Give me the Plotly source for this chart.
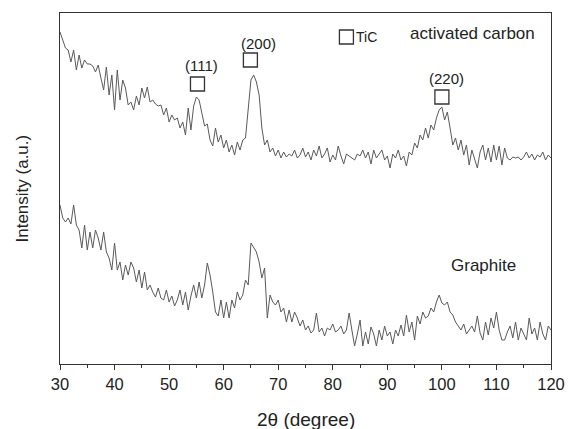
import plotly.graph_objects as go

two_theta = [30 + 0.5 * i for i in range(181)]

activated_carbon = [
    332, 324, 316, 314, 302, 314, 294, 309, 296, 304, 300, 300, 298, 292, 299, 286, 274, 297, 269, 289,
    254, 294, 264, 284, 276, 259, 262, 254, 268, 259, 276, 266, 277, 262, 264, 260, 258, 259, 249, 256,
    242, 249, 244, 246, 236, 242, 229, 256, 234, 258, 267, 264, 252, 238, 240, 224, 218, 236, 222, 229,
    216, 224, 212, 219, 209, 222, 214, 224, 226, 254, 284, 289, 282, 269, 236, 219, 224, 212, 216, 208,
    214, 206, 212, 207, 210, 208, 214, 206, 209, 216, 207, 212, 204, 214, 208, 218, 206, 210, 216, 202,
    209, 204, 218, 208, 200, 210, 208, 206, 204, 210, 208, 214, 206, 212, 200, 214, 206, 210, 214, 204,
    208, 196, 210, 206, 214, 204, 208, 198, 212, 209, 221, 216, 229, 224, 236, 226, 239, 234, 246, 254,
    257, 244, 252, 236, 219, 226, 214, 224, 209, 219, 199, 214, 206, 196, 212, 219, 204, 216, 202, 219,
    204, 218, 199, 216, 206, 204, 207, 206, 207, 204, 207, 212, 206, 210, 204, 209, 207, 212, 204, 209,
    206,
]

graphite = [
    159, 146, 142, 146, 140, 159, 139, 134, 116, 139, 114, 132, 116, 134, 126, 114, 132, 112, 106, 94,
    121, 94, 102, 84, 99, 89, 102, 96, 82, 94, 76, 92, 74, 79, 72, 67, 76, 66, 64, 74,
    62, 68, 58, 64, 74, 59, 72, 54, 68, 79, 66, 82, 66, 79, 101, 89, 72, 52, 48, 64,
    46, 62, 46, 64, 56, 72, 64, 69, 84, 79, 121, 116, 112, 102, 86, 96, 46, 69, 62, 59,
    64, 52, 56, 42, 54, 42, 52, 46, 38, 44, 34, 38, 31, 34, 51, 32, 36, 28, 36, 34,
    40, 32, 34, 38, 30, 34, 51, 34, 18, 30, 44, 18, 32, 20, 37, 30, 18, 34, 24, 38,
    28, 32, 20, 34, 28, 39, 28, 49, 32, 42, 24, 48, 40, 52, 46, 48, 56, 52, 62, 69,
    61, 59, 62, 52, 49, 42, 38, 34, 40, 30, 34, 38, 32, 48, 31, 24, 42, 29, 46, 36,
    52, 34, 24, 24, 32, 38, 26, 42, 24, 36, 30, 24, 46, 30, 36, 24, 42, 30, 24, 38,
    34,
]

x_ticks = [30, 40, 50, 60, 70, 80, 90, 100, 110, 120]

peak_labels = ["(111)", "(200)", "(220)"]
peak_label_x = [56.0, 66.3, 100.8]
peak_label_y = [299, 321, 286]
peak_square_x = [55.2, 64.9, 100.0]
peak_square_y = [280, 304, 267]
legend_square = (82.5, 327)

line_color = "#5a5a5a"
text_color = "#222222"
font_family = "Liberation Sans, Arial, sans-serif"

fig = go.Figure()
fig.add_trace(go.Scatter(x=two_theta, y=activated_carbon, mode="lines",
                         line=dict(color=line_color, width=1), showlegend=False))
fig.add_trace(go.Scatter(x=two_theta, y=graphite, mode="lines",
                         line=dict(color=line_color, width=1), showlegend=False))
# TiC markers
fig.add_trace(go.Scatter(x=peak_square_x + [legend_square[0]], y=peak_square_y + [legend_square[1]],
                         mode="markers",
                         marker=dict(symbol="square-open", size=14, color="#333333",
                                     line=dict(width=1.3, color="#333333")),
                         showlegend=False))

annotations = []
for lab, px, py in zip(peak_labels, peak_label_x, peak_label_y):
    annotations.append(dict(x=px, y=py, text=lab, showarrow=False,
                            font=dict(size=15, color=text_color, family=font_family)))
annotations.append(dict(x=83.8, y=327, text="TiC", showarrow=False, xanchor="left",
                        font=dict(size=14, color=text_color, family=font_family)))
annotations.append(dict(x=105.7, y=331, text="activated carbon", showarrow=False,
                        font=dict(size=17, color=text_color, family=font_family)))
annotations.append(dict(x=107.7, y=99, text="Graphite", showarrow=False,
                        font=dict(size=17, color=text_color, family=font_family)))
# axis titles
annotations.append(dict(x=0.5, y=0, xref="paper", yref="paper", text="2θ (degree)",
                        showarrow=False, yanchor="middle", yshift=-55,
                        font=dict(size=19, color=text_color, family=font_family)))
annotations.append(dict(x=0, y=0.5, xref="paper", yref="paper", text="Intensity (a.u.)",
                        showarrow=False, textangle=-90, xanchor="center", xshift=-38,
                        font=dict(size=17, color=text_color, family=font_family)))

fig.update_layout(
    width=568, height=429,
    margin=dict(l=60, r=17, t=13, b=65),
    paper_bgcolor="white", plot_bgcolor="white",
    font=dict(family=font_family, color=text_color),
    annotations=annotations,
    xaxis=dict(range=[30, 120], tickvals=x_ticks, ticks="outside", ticklen=5,
               tickcolor="#333333", showline=True, linecolor="#333333", linewidth=1.2,
               mirror=True, showgrid=False, zeroline=False, automargin=False,
               tickfont=dict(size=16.5, color=text_color),
               minor=dict(dtick=5, tick0=30, ticks="outside", ticklen=3, tickcolor="#333333")),
    yaxis=dict(range=[0, 351], showticklabels=False, ticks="", showline=True,
               linecolor="#333333", linewidth=1.2, mirror=True, showgrid=False, zeroline=False,
               automargin=False),
)

fig.write_html("out.html", config={"displayModeBar": False},
               post_script="document.body.style.margin='0';document.body.style.overflow='hidden';")
